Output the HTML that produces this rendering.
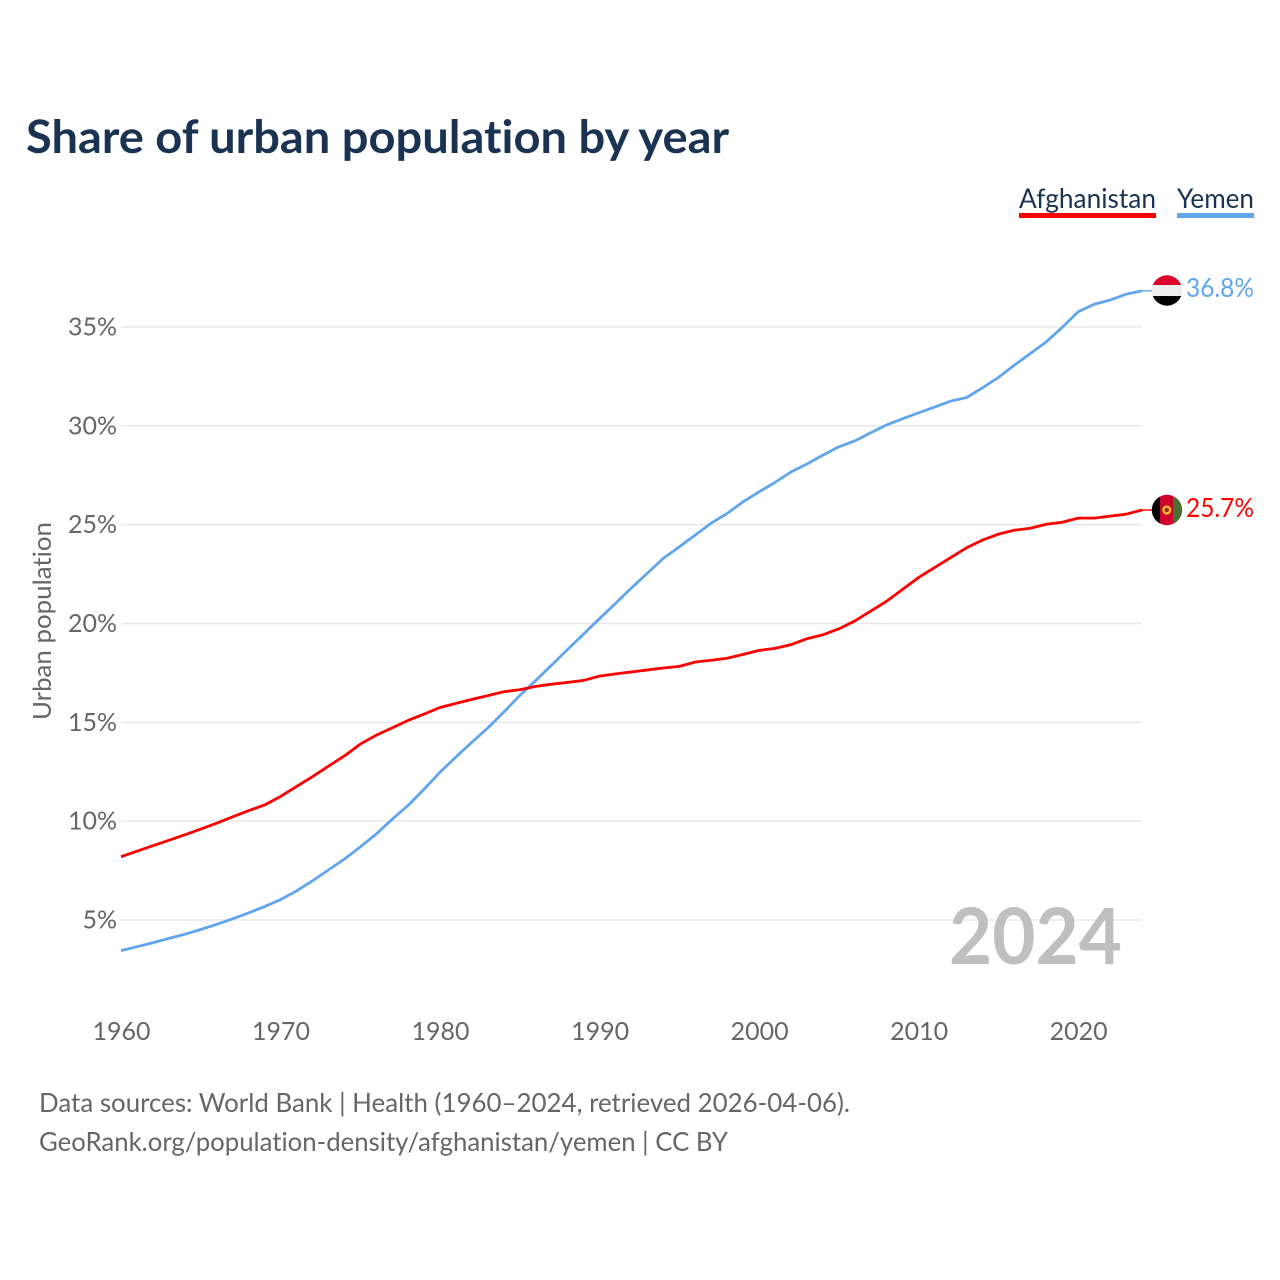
<!DOCTYPE html>
<html lang="en">
<head>
<meta charset="utf-8">
<title>Share of urban population by year</title>
<style>
html,body{margin:0;padding:0;background:#fff;width:1280px;height:1280px;overflow:hidden}
svg{display:block}
text{font-family:"Lato","Carlito","Liberation Sans",sans-serif;font-variant-ligatures:none;font-feature-settings:"liga" 0,"clig" 0}
</style>
</head>
<body>
<svg id="chart" width="1280" height="1280" viewBox="0 0 1280 1280" xmlns="http://www.w3.org/2000/svg">
  <defs>
    <clipPath id="clip-yemen"><circle cx="1167" cy="290.5" r="15.2"/></clipPath>
    <clipPath id="clip-afghanistan"><circle cx="1167" cy="510" r="15.2"/></clipPath>
  </defs>
  <text x="26" y="153" font-size="46" font-weight="700" fill="#1a3353" textLength="703" lengthAdjust="spacingAndGlyphs">Share of urban population by year</text>

  <g>
    <text x="1019" y="208" font-size="27" fill="#1a3353" textLength="137" lengthAdjust="spacingAndGlyphs">Afghanistan</text>
    <rect x="1019" y="213" width="137" height="5" fill="#ff0000"/>
  </g>
  <g>
    <text x="1177" y="208" font-size="27" fill="#1a3353" textLength="77" lengthAdjust="spacingAndGlyphs">Yemen</text>
    <rect x="1177" y="213" width="77" height="5" fill="#60a5ee"/>
  </g>

  <text transform="translate(51,621) rotate(-90)" text-anchor="middle" font-size="25" fill="#666666" textLength="198" lengthAdjust="spacingAndGlyphs">Urban population</text>

  <g id="grid"></g>
  <g id="y-labels"></g>
  <g id="x-labels"></g>

  <text x="1122" y="964" text-anchor="end" font-size="78" font-weight="700" fill="#bfbfbf" textLength="173" lengthAdjust="spacingAndGlyphs">2024</text>

  <path id="line-yemen" fill="none" stroke="#60a5ee" stroke-width="2.8" stroke-linejoin="round"/>
  <path id="line-afghanistan" fill="none" stroke="#ff0000" stroke-width="2.8" stroke-linejoin="round"/>
  <line id="connector-yemen" stroke="#60a5ee" stroke-width="1.4"/>
  <line id="connector-afghanistan" stroke="#ff0000" stroke-width="1.4"/>

  <g clip-path="url(#clip-yemen)">
    <rect x="1151" y="275" width="32" height="10" fill="#dc0428"/>
    <rect x="1151" y="285" width="32" height="11" fill="#eeeeee"/>
    <rect x="1151" y="296" width="32" height="11" fill="#000000"/>
  </g>
  <g clip-path="url(#clip-afghanistan)">
    <rect x="1151" y="494" width="9" height="32" fill="#000000"/>
    <rect x="1160" y="494" width="13" height="32" fill="#d0022a"/>
    <rect x="1173" y="494" width="10" height="32" fill="#4a7034"/>
    <circle cx="1166.8" cy="510" r="3.4" fill="none" stroke="#f2c230" stroke-width="2.4"/>
    <circle cx="1166.8" cy="510" r="1.1" fill="#6b4a10"/>
  </g>

  <text x="1186" y="297" font-size="26" fill="#60a5ee" textLength="68" lengthAdjust="spacingAndGlyphs">36.8%</text>
  <text x="1186" y="517" font-size="26" fill="#ff0000" textLength="68" lengthAdjust="spacingAndGlyphs">25.7%</text>

  <text x="39" y="1112" font-size="26" fill="#666666" textLength="811" lengthAdjust="spacingAndGlyphs">Data sources: World Bank | Health (1960–2024, retrieved 2026-04-06).</text>
  <text x="39" y="1151" font-size="26" fill="#666666" textLength="689" lengthAdjust="spacingAndGlyphs">GeoRank.org/population-density/afghanistan/yemen | CC BY</text>
</svg>
<script>
const startYear = 1960;
const endYear = 2024;
const yTicks = [5, 10, 15, 20, 25, 30, 35];
const xTicks = [1960, 1970, 1980, 1990, 2000, 2010, 2020];
const afghanistan = [
  8.2, 8.48, 8.76, 9.03, 9.31, 9.6, 9.9, 10.22, 10.53, 10.82,
  11.25, 11.75, 12.25, 12.78, 13.3, 13.9, 14.35, 14.72, 15.1, 15.42,
  15.75, 15.96, 16.16, 16.35, 16.55, 16.65, 16.82, 16.93, 17.02, 17.12,
  17.34, 17.45, 17.55, 17.65, 17.75, 17.83, 18.05, 18.14, 18.24, 18.44,
  18.64, 18.74, 18.93, 19.23, 19.43, 19.73, 20.13, 20.63, 21.13, 21.73,
  22.33, 22.83, 23.33, 23.83, 24.22, 24.52, 24.72, 24.82, 25.02, 25.12,
  25.33, 25.33, 25.43, 25.53, 25.74
];
const yemen = [
  3.45, 3.65, 3.85, 4.07, 4.28, 4.52, 4.78, 5.06, 5.36, 5.68,
  6.03, 6.47, 6.98, 7.53, 8.08, 8.7, 9.35, 10.1, 10.8, 11.62,
  12.48, 13.25, 14.0, 14.72, 15.52, 16.36, 17.12, 17.9, 18.69, 19.47,
  20.25, 21.02, 21.8, 22.55, 23.3, 23.88, 24.48, 25.08, 25.57, 26.16,
  26.66, 27.14, 27.67, 28.07, 28.52, 28.94, 29.24, 29.65, 30.05, 30.36,
  30.66, 30.95, 31.25, 31.43, 31.92, 32.45, 33.07, 33.66, 34.25, 34.98,
  35.77, 36.15, 36.36, 36.66, 36.83
];

const SVG_NS = 'http://www.w3.org/2000/svg';
const xScale = function (year) {
  return 121 + (year - startYear) * (1142 - 121) / (endYear - startYear);
};
const yScale = function (value) {
  return 920 - (value - 5) * (920 - 327) / 30;
};
const linePath = function (values) {
  return values.map(function (value, i) {
    return (i ? 'L' : 'M') + xScale(startYear + i).toFixed(2) + ' ' + yScale(value).toFixed(2);
  }).join(' ');
};

const grid = document.getElementById('grid');
const yLabels = document.getElementById('y-labels');
const xLabels = document.getElementById('x-labels');

yTicks.forEach(function (tick) {
  const rule = document.createElementNS(SVG_NS, 'line');
  
  
  rule.setAttribute('x1', 121);
  rule.setAttribute('x2', 1142);
  rule.setAttribute('y1', yScale(tick));
  rule.setAttribute('y2', yScale(tick));
  rule.setAttribute('stroke', '#e8e8e8');
  rule.setAttribute('stroke-width', '1.5');
  grid.appendChild(rule);

  const label = document.createElementNS(SVG_NS, 'text');
  
  
  label.setAttribute('x', 117);
  label.setAttribute('y', yScale(tick) + 8.5);
  label.setAttribute('text-anchor', 'end');
  label.setAttribute('font-size', '25');
  label.setAttribute('fill', '#666666');
  label.textContent = tick + '%';
  yLabels.appendChild(label);
});

xTicks.forEach(function (tick) {
  const label = document.createElementNS(SVG_NS, 'text');
  
  
  label.setAttribute('x', xScale(tick) + 0.5);
  label.setAttribute('y', 1040);
  label.setAttribute('text-anchor', 'middle');
  label.setAttribute('font-size', '25');
  label.setAttribute('fill', '#666666');
  label.textContent = tick;
  xLabels.appendChild(label);
});

document.getElementById('line-afghanistan').setAttribute('d', linePath(afghanistan));
document.getElementById('line-yemen').setAttribute('d', linePath(yemen));

const connect = function (id, values) {
  const el = document.getElementById(id);
  const y = yScale(values[values.length - 1]);
  el.setAttribute('x1', xScale(endYear));
  el.setAttribute('x2', 1152);
  el.setAttribute('y1', y);
  el.setAttribute('y2', y);
};
connect('connector-afghanistan', afghanistan);
connect('connector-yemen', yemen);
</script>
</body>
</html>
